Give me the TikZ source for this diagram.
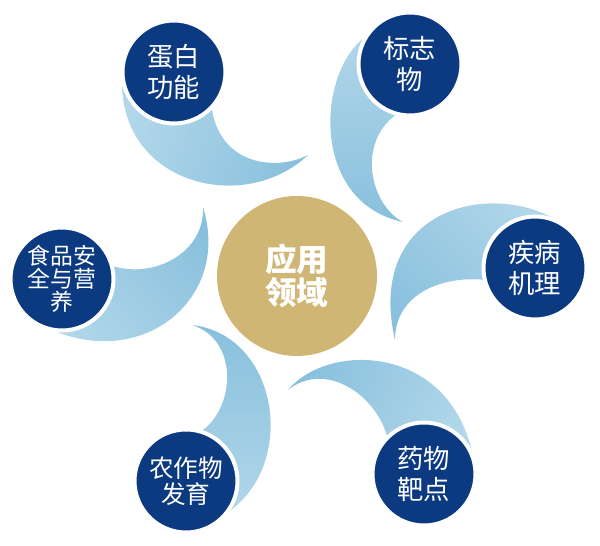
\documentclass[tikz,border=0pt]{standalone}
\usepackage{fontspec}
\usepackage{tikz}
\usetikzlibrary{positioning, backgrounds}
\newfontfamily\cjk{Noto Sans CJK SC}
\definecolor{navyblue}{HTML}{0C3A80}
\definecolor{hubgold}{HTML}{D0B675}
\definecolor{tailpale}{HTML}{B2D7EA}
\definecolor{taildeep}{HTML}{88C0DD}

\begin{document}
\begin{tikzpicture}[
  x=0.02cm, y=-0.02cm,
  topic/.style={
    circle, fill=navyblue, draw=white, line width=0.08cm,
    minimum size=2.06cm, inner sep=0pt, align=center, text=white,
    font=\cjk\fontsize{15}{18}\selectfont
  },
  hub/.style={
    circle, fill=hubgold, minimum size=3.2cm, inner sep=0pt,
    align=center, text=white, font=\cjk\bfseries\fontsize{18}{19}\selectfont
  },
  tail/.style={
    top color=tailpale, bottom color=taildeep, shading angle=#1
  }
]
\useasboundingbox (0,0) rectangle (600,546);

% Centre
\node[hub] (app) at (297,276) {应用\\领域};

% Topics
\node[topic] (protein) at (174,72) {蛋白\\功能};
\node[topic] (marker) at (410,64) {标志\\物};
\node[topic] (disease) at (535,268) {疾病\\机理};
\node[topic] (target) at (424,474) {药物\\靶点};
\node[topic, font=\cjk\fontsize{14}{14.5}\selectfont] (crop) at (186,481) {农作物\\发育};
\node[topic, font=\cjk\fontsize{13}{13}\selectfont] (food) at (62,279) {食品安\\全与营\\养};

% Tails
\begin{scope}[on background layer]
\shade[tail=70] (122,80) .. controls (120,185) and (245,215) .. (308,155)
  .. controls (280,170) and (222,168) .. (212,110) -- (protein.center) -- cycle;
\shade[tail=0] (380,30) .. controls (320,45) and (300,200) .. (403,222)
  .. controls (370,205) and (355,140) .. (400,112) -- (marker.center) -- cycle;
\shade[tail=-45] (560,222) .. controls (490,178) and (365,210) .. (395,340)
  .. controls (395,295) and (440,275) .. (487,280) -- (disease.center) -- cycle;
\shade[tail=-115] (474,462) .. controls (455,345) and (330,340) .. (288,390)
  .. controls (325,360) and (378,395) .. (388,440) -- (target.center) -- cycle;
\shade[tail=180] (222,516) .. controls (300,470) and (280,335) .. (192,325)
  .. controls (240,340) and (235,410) .. (200,432) -- (crop.center) -- cycle;
\shade[tail=135] (48,328) .. controls (140,372) and (232,300) .. (203,207)
  .. controls (205,255) and (150,280) .. (110,265) -- (food.center) -- cycle;
\end{scope}

\end{tikzpicture}
\end{document}
